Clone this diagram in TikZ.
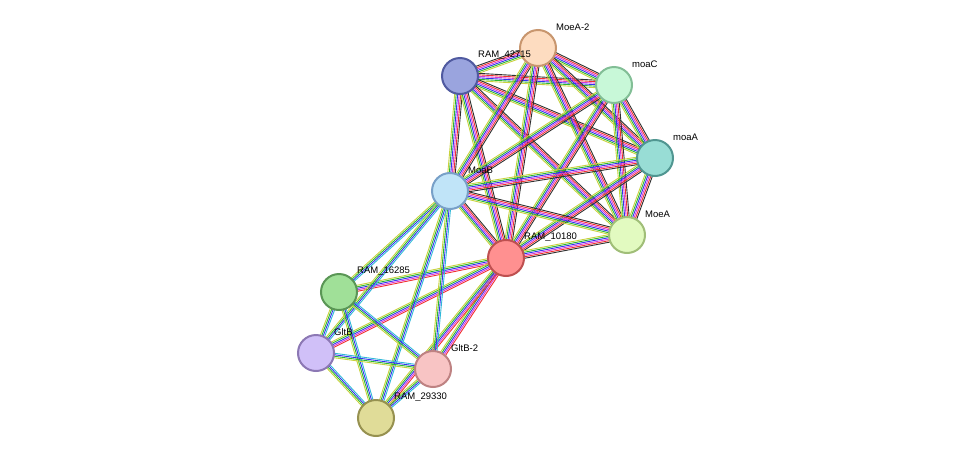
\documentclass[tikz,border=0pt]{standalone}
\usepackage{fontspec}
\setmainfont{Liberation Sans}
\usetikzlibrary{calc,backgrounds}
\definecolor{cY}{HTML}{C8D23C}\definecolor{cG}{HTML}{2DB82D}\definecolor{cB}{HTML}{3232F0}
\definecolor{cM}{HTML}{D838D8}\definecolor{cR}{HTML}{F03030}\definecolor{cK}{HTML}{303030}
\definecolor{cC}{HTML}{30B8D8}
\definecolor{fm2}{RGB}{253,220,192}\definecolor{dm2}{RGB}{200,150,110}
\definecolor{fr4}{RGB}{154,164,222}\definecolor{dr4}{RGB}{80,90,160}
\definecolor{fmc}{RGB}{200,248,216}\definecolor{dmc}{RGB}{130,190,150}
\definecolor{fma}{RGB}{152,221,213}\definecolor{dma}{RGB}{80,150,145}
\definecolor{fmb}{RGB}{192,228,248}\definecolor{dmb}{RGB}{120,160,200}
\definecolor{fme}{RGB}{226,250,192}\definecolor{dme}{RGB}{160,190,120}
\definecolor{fr1}{RGB}{255,144,144}\definecolor{dr1}{RGB}{190,80,80}
\definecolor{fr6}{RGB}{160,224,152}\definecolor{dr6}{RGB}{90,150,85}
\definecolor{fgb}{RGB}{208,192,248}\definecolor{dgb}{RGB}{140,120,180}
\definecolor{fg2}{RGB}{248,196,196}\definecolor{dg2}{RGB}{190,130,130}
\definecolor{fr2}{RGB}{224,220,152}\definecolor{dr2}{RGB}{150,145,80}
\tikzset{
 prot/.style={circle,minimum size=36pt,inner sep=0,line width=2pt,fill=f#1,draw=d#1},
 lab/.style={anchor=west,inner sep=0,font=\fontsize{9.5}{10}\selectfont},
 ed/.style={line width=0.9pt}
}
\newcommand\EU[2]{\foreach \c/\o in {cY/-3.75,cG/-2.25,cB/-0.75,cM/0.75,cR/2.25,cK/3.75}{
 \draw[ed,\c] ($(#1)!\o pt!90:(#2)$) -- ($(#2)!\o pt!-90:(#1)$);}}
\newcommand\EL[2]{\foreach \c/\o in {cY/-2.25,cG/-0.75,cB/0.75,cC/2.25}{
 \draw[ed,\c] ($(#1)!\o pt!90:(#2)$) -- ($(#2)!\o pt!-90:(#1)$);}}
\newcommand\EM[2]{\foreach \c/\o in {cY/-3,cG/-1.5,cB/0,cM/1.5,cR/3}{
 \draw[ed,\c] ($(#1)!\o pt!90:(#2)$) -- ($(#2)!\o pt!-90:(#1)$);}}
\begin{document}
\begin{tikzpicture}[x=1pt,y=-1pt]
\useasboundingbox (0,0) rectangle (975,464);
\foreach \n/\x/\y in {m2/538/48,r4/460/76,mc/614/85,ma/655/158,mb/450/191,me/627/235,r1/506/258,r6/339/292,gb/316/353,g2/433/369,r2/376/418}
 \node[prot=\n] (\n) at (\x,\y) {};
\begin{scope}[on background layer]
\EU{r4}{m2}\EU{r4}{mc}\EU{r4}{ma}\EU{r4}{mb}\EU{r4}{me}\EU{r4}{r1}
\EU{m2}{mc}\EU{m2}{ma}\EU{m2}{mb}\EU{m2}{me}\EU{m2}{r1}
\EU{mc}{ma}\EU{mc}{mb}\EU{mc}{me}\EU{mc}{r1}
\EU{ma}{mb}\EU{ma}{me}\EU{ma}{r1}
\EU{mb}{me}\EU{mb}{r1}\EU{me}{r1}
\EM{r1}{r6}\EM{r1}{gb}\EM{r1}{g2}\EM{r1}{r2}
\EL{mb}{r6}\EL{mb}{gb}\EL{mb}{g2}\EL{mb}{r2}
\EL{r6}{gb}\EL{r6}{g2}\EL{r6}{r2}
\EL{gb}{g2}\EL{gb}{r2}\EL{g2}{r2}
\end{scope}
\foreach \n/\t in {m2/MoeA-2,r4/RAM\_42715,mc/moaC,ma/moaA,mb/MoaB,me/MoeA,r1/RAM\_10180,r6/RAM\_16285,gb/GltB,g2/GltB-2,r2/RAM\_29330}
 \node[lab] (l\n) at ($(\n)+(18,-21)$) {\t};
\end{tikzpicture}
\end{document}
